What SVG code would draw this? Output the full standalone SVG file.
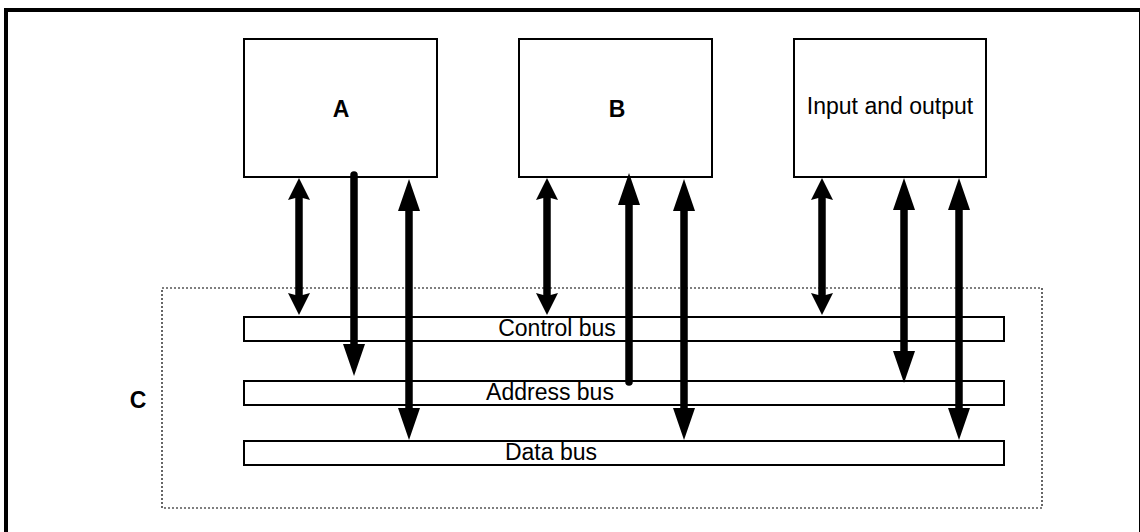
<svg xmlns="http://www.w3.org/2000/svg" width="1140" height="532" viewBox="0 0 1140 532">
<style>
  .box { fill: #fff; stroke: #000; stroke-width: 2; }
  .bar { fill: #fff; stroke: #000; stroke-width: 2; }
  .frame { fill: none; stroke: #000; stroke-width: 4; }
  .group { fill: none; stroke: #000; stroke-width: 1.2; stroke-dasharray: 2 2; }
  .t { font-family: "Liberation Sans", Arial, sans-serif; font-size: 23px; fill: #000; text-anchor: middle; }
  .b { font-weight: bold; }
  .shaft { stroke: #000; stroke-width: 7.5; fill: none; }
  .r { stroke-linecap: round; }
</style>
<defs>
  <marker id="sh" viewBox="0 0 22 22" markerWidth="22" markerHeight="22" refX="3" refY="11" orient="auto-start-reverse" markerUnits="userSpaceOnUse">
    <path d="M0,0 L22,11 L0,22 L3,11 Z" fill="#000"/>
  </marker>
  <marker id="bh" viewBox="0 0 32 22" markerWidth="32" markerHeight="22" refX="2" refY="11" orient="auto-start-reverse" markerUnits="userSpaceOnUse">
    <path d="M0,0 L32,11 L0,22 Z" fill="#000"/>
  </marker>
</defs>
<rect class="frame" x="6" y="10" width="1135" height="540"/>
<g id="C">
  <rect class="group" x="162" y="288" width="880" height="220"/>
  <text class="t b" x="138" y="408">C</text>
</g>
<g id="A"><rect class="box" x="244" y="39" width="193" height="138"/><text class="t b" x="341" y="117">A</text></g>
<g id="B"><rect class="box" x="519" y="39" width="193" height="138"/><text class="t b" x="617" y="117">B</text></g>
<g id="IO"><rect class="box" x="794" y="39" width="192" height="138"/><text class="t" x="890" y="114">Input and output</text></g>
<g id="control-bus"><rect class="bar" x="244" y="317" width="760" height="24"/><text class="t" x="557" y="336">Control bus</text></g>
<g id="address-bus"><rect class="bar" x="244" y="381" width="760" height="24"/><text class="t" x="550" y="400">Address bus</text></g>
<g id="data-bus"><rect class="bar" x="244" y="441" width="760" height="24"/><text class="t" x="551" y="460">Data bus</text></g>
<g id="connectors">
  <line class="shaft" x1="299" y1="197" x2="299" y2="296" marker-start="url(#sh)" marker-end="url(#sh)"/>
  <line class="shaft r" x1="354" y1="175" x2="354" y2="346" marker-end="url(#bh)"/>
  <line class="shaft" x1="409" y1="209" x2="409" y2="410" marker-start="url(#bh)" marker-end="url(#bh)"/>
  <line class="shaft" x1="547" y1="197" x2="547" y2="296" marker-start="url(#sh)" marker-end="url(#sh)"/>
  <line class="shaft r" x1="629" y1="382" x2="629" y2="203" marker-end="url(#bh)"/>
  <line class="shaft" x1="684" y1="209" x2="684" y2="410" marker-start="url(#bh)" marker-end="url(#bh)"/>
  <line class="shaft" x1="822" y1="197" x2="822" y2="296" marker-start="url(#sh)" marker-end="url(#sh)"/>
  <line class="shaft" x1="904" y1="208" x2="904" y2="353" marker-start="url(#bh)" marker-end="url(#bh)"/>
  <line class="shaft" x1="959" y1="208" x2="959" y2="410" marker-start="url(#bh)" marker-end="url(#bh)"/>
</g>
</svg>
